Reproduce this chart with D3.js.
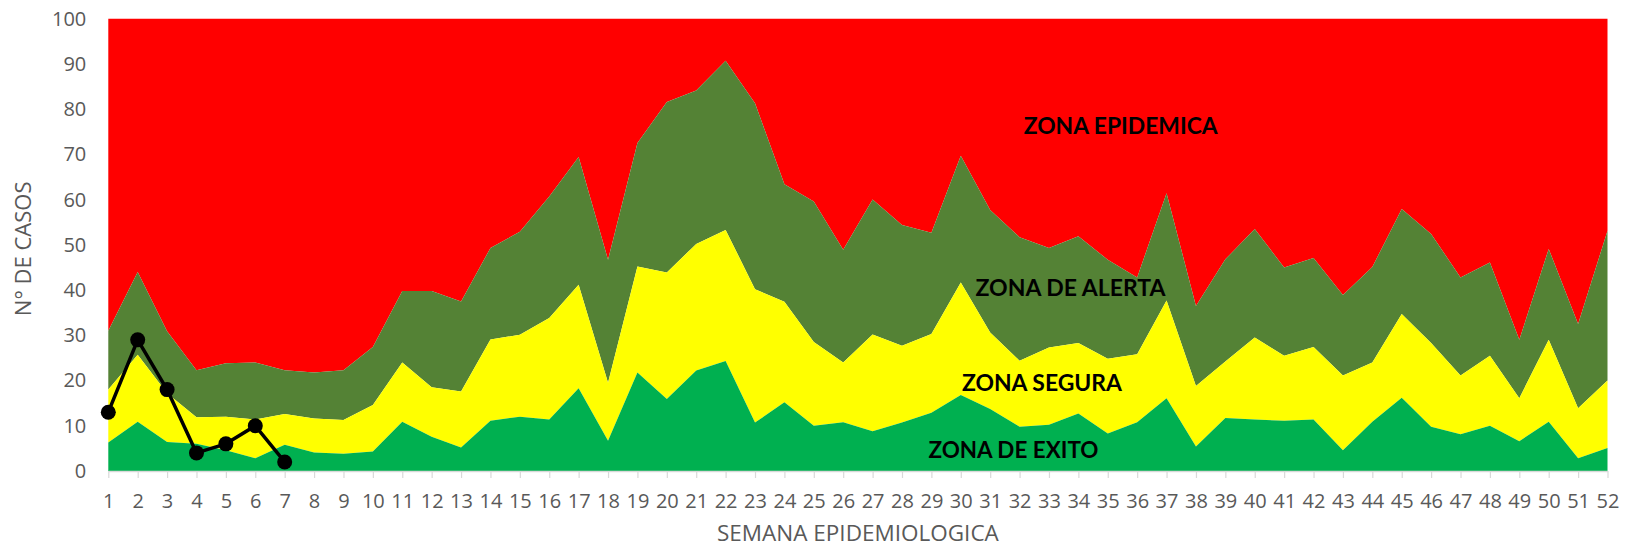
<!DOCTYPE html>
<html>
<head>
<meta charset="utf-8">
<script src="https://cdn.jsdelivr.net/npm/d3@7"></script>
<style>
  html, body { margin: 0; padding: 0; background: #ffffff; }
  svg { display: block; }
</style>
</head>
<body>
<svg id="chart" width="1630" height="548"></svg>
<script>
// Semanas epidemiológicas
const semanas = d3.range(1, 53);

// Límites del canal endémico (umbral superior de cada zona), por semana
const limiteExito = [6.3, 10.9, 6.4, 6.0, 4.6, 2.8, 5.8, 4.1, 3.8, 4.3,
  10.9, 7.6, 5.2, 11.1, 12.0, 11.4, 18.3, 6.7, 21.8, 15.9,
  22.2, 24.3, 10.7, 15.2, 10.0, 10.8, 8.8, 10.7, 12.9, 16.8,
  13.7, 9.8, 10.2, 12.7, 8.3, 10.8, 16.1, 5.4, 11.7, 11.4,
  11.1, 11.4, 4.6, 10.9, 16.2, 9.8, 8.1, 10.0, 6.6, 10.9,
  2.8, 5.1];

const limiteSegura = [18.0, 25.7, 17.2, 11.9, 12.0, 11.4, 12.6, 11.6, 11.3, 14.6,
  24.0, 18.5, 17.6, 29.1, 30.1, 33.8, 41.2, 19.5, 45.2, 43.9,
  50.2, 53.3, 40.2, 37.4, 28.5, 24.0, 30.2, 27.7, 30.3, 41.7,
  30.6, 24.4, 27.3, 28.3, 24.8, 25.8, 37.7, 18.8, 24.2, 29.5,
  25.5, 27.4, 21.1, 24.0, 34.7, 28.3, 21.1, 25.5, 16.1, 29.0,
  13.9, 20.0];

const limiteAlerta = [31.0, 44.0, 30.9, 22.3, 23.8, 24.0, 22.3, 21.8, 22.3, 27.4,
  39.8, 39.8, 37.5, 49.3, 52.9, 60.7, 69.4, 46.7, 72.5, 81.6,
  84.1, 90.7, 81.3, 63.4, 59.6, 48.9, 60.0, 54.4, 52.7, 69.7,
  57.7, 51.7, 49.3, 51.9, 46.7, 42.8, 61.4, 36.5, 46.8, 53.5,
  45.0, 47.1, 38.9, 45.1, 57.9, 52.4, 42.8, 46.1, 29.0, 49.1,
  32.5, 53.1];

// Casos observados en el año en curso
const casosObservados = [13, 29, 18, 4, 6, 10, 2];

// Etiquetas del eje Y
const ticksY = [0, 10, 20, 30, 40, 50, 60, 70, 80, 90, 100];

const W = 1630, H = 548;
const plot = { left: 108.3, right: 1607.5, top: 18.7, bottom: 471 };

const svg = d3.select("#chart");

const x = d3.scaleLinear().domain([1, 52]).range([plot.left, plot.right]);
const y = d3.scaleLinear().domain([0, 100]).range([plot.bottom, plot.top]);

const filas = semanas.map((s, i) => ({
  semana: s,
  exito: limiteExito[i],
  segura: limiteSegura[i],
  alerta: limiteAlerta[i]
}));

const techo = y.domain()[1];

// Bandas del canal endémico, de arriba hacia abajo
const bandas = [
  { nombre: "epidemica", color: "#FF0000", bajo: d => d.alerta, alto: () => techo },
  { nombre: "alerta",    color: "#548235", bajo: d => d.segura, alto: d => d.alerta },
  { nombre: "segura",    color: "#FFFF00", bajo: d => d.exito,  alto: d => d.segura },
  { nombre: "exito",     color: "#00B050", bajo: () => 0,       alto: d => d.exito }
];

const gBandas = svg.append("g");
bandas.forEach(b => {
  const area = d3.area()
    .x(d => x(d.semana))
    .y0(d => y(b.bajo(d)))
    .y1(d => y(b.alto(d)));
  gBandas.append("path")
    .datum(filas)
    .attr("d", area)
    .attr("fill", b.color)
    .attr("stroke", "none");
});

// Eje X
const ejeX = svg.append("g")
  .attr("transform", `translate(0,${plot.bottom})`)
  .call(d3.axisBottom(x).tickValues(semanas).tickFormat(d3.format("d"))
    .tickSizeInner(7).tickSizeOuter(0).tickPadding(15.5));
ejeX.select(".domain").attr("stroke", "#D9D9D9").attr("stroke-width", 1.5);
ejeX.selectAll(".tick line").attr("stroke", "#D9D9D9").attr("stroke-width", 1.2);
ejeX.selectAll(".tick text")
  .attr("fill", "#595959")
  .style("font-family", "'Open Sans', sans-serif")
  .style("font-size", "20px");

// Eje Y
const ejeY = svg.append("g")
  .attr("transform", `translate(${plot.left},0)`)
  .call(d3.axisLeft(y).tickValues(ticksY).tickSize(0).tickPadding(22));
ejeY.select(".domain").remove();
ejeY.selectAll(".tick text")
  .attr("fill", "#595959")
  .style("font-family", "'Open Sans', sans-serif")
  .style("font-size", "20px");

// Serie de casos observados
const puntos = casosObservados.map((v, i) => ({ semana: semanas[i], valor: v }));
svg.append("path")
  .datum(puntos)
  .attr("d", d3.line().x(d => x(d.semana)).y(d => y(d.valor)))
  .attr("fill", "none")
  .attr("stroke", "#000000")
  .attr("stroke-width", 3.5)
  .attr("stroke-linejoin", "round");
svg.append("g").selectAll("circle")
  .data(puntos)
  .join("circle")
  .attr("cx", d => x(d.semana))
  .attr("cy", d => y(d.valor))
  .attr("r", 7.5)
  .attr("fill", "#000000");

// Nombres de las zonas
const zonas = [
  { texto: "ZONA EPIDEMICA", semana: 32.14, nivel: 74.6, ancho: 194 },
  { texto: "ZONA DE ALERTA", semana: 30.5,  nivel: 38.6, ancho: 190 },
  { texto: "ZONA SEGURA",    semana: 30.04, nivel: 17.7, ancho: 160 },
  { texto: "ZONA DE EXITO",  semana: 28.9,  nivel: 2.9,  ancho: 170 }
];
svg.append("g").selectAll("text")
  .data(zonas)
  .join("text")
  .attr("x", d => x(d.semana))
  .attr("y", d => y(d.nivel))
  .attr("textLength", d => d.ancho)
  .attr("lengthAdjust", "spacingAndGlyphs")
  .attr("fill", "#000000")
  .style("font-family", "Lato, 'Open Sans', sans-serif")
  .style("font-weight", "bold")
  .style("font-size", "22px")
  .text(d => d.texto);

// Títulos de los ejes
svg.append("text")
  .attr("x", (plot.left + plot.right) / 2)
  .attr("y", 540.5)
  .attr("text-anchor", "middle")
  .attr("fill", "#595959")
  .style("font-family", "'Open Sans', sans-serif")
  .style("font-size", "22.5px")
  .text("SEMANA EPIDEMIOLOGICA");

svg.append("text")
  .attr("transform", `translate(31,${(plot.top + plot.bottom) / 2 + 4}) rotate(-90)`)
  .attr("text-anchor", "middle")
  .attr("fill", "#595959")
  .style("font-family", "'Open Sans', sans-serif")
  .style("font-size", "22px")
  .text("N° DE CASOS");
</script>
</body>
</html>
